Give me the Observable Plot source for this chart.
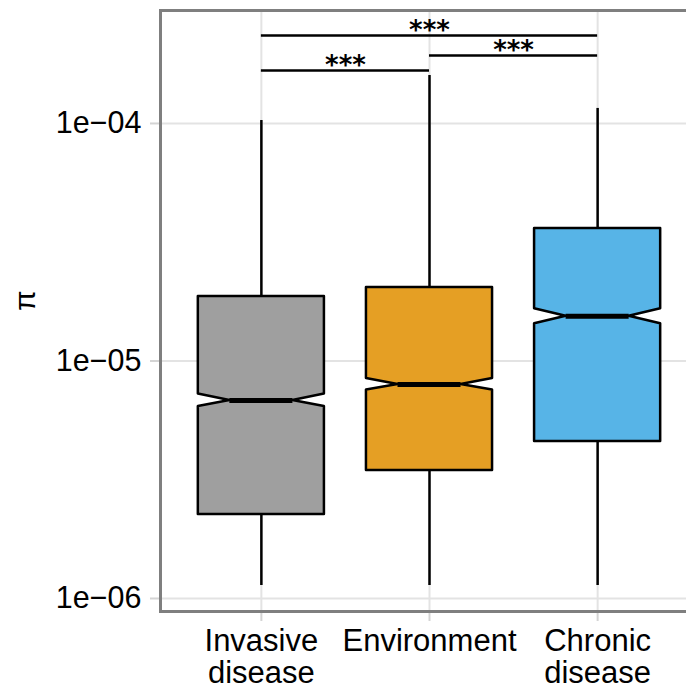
<!DOCTYPE html>
<html><head><meta charset="utf-8">
<script src="https://cdn.jsdelivr.net/npm/d3@7"></script>
<script src="https://cdn.jsdelivr.net/npm/@observablehq/plot@0.6"></script>
<style>
html,body{margin:0;padding:0;background:#fff;overflow:hidden;}
#chart{width:686px;height:693px;overflow:hidden;}
#chart svg{max-width:none !important;width:698px !important;height:693px !important;}
</style></head><body><div id="chart"></div>
<script>
// ---- data ----
const categories = ["Invasive disease", "Environment", "Chronic disease"];
const xTickLabels = ["Invasive\ndisease", "Environment", "Chronic\ndisease"];
const colors = ["#9f9f9f", "#e59f24", "#57b4e7"];
const whiskerLow = [1.134e-6, 1.134e-6, 1.134e-6];
const q1 = [2.26e-6, 3.46e-6, 4.58e-6];
const notchLow = [6.43e-6, 7.55e-6, 1.434e-5];
const median = [6.82e-6, 7.96e-6, 1.544e-5];
const notchHigh = [7.26e-6, 8.44e-6, 1.659e-5];
const q3 = [1.87e-5, 2.04e-5, 3.61e-5];
const whiskerHigh = [1.029e-4, 1.592e-4, 1.157e-4];
const yTicks = [1e-6, 1e-5, 1e-4];
const yTickLabels = ["1e\u221206", "1e\u221205", "1e\u221204"];
const yLabel = "\u03c0";
const compFrom = [1, 2, 1];
const compTo = [2, 3, 3];
const compY = [1.672e-4, 1.933e-4, 2.347e-4];
const compLabel = ["***", "***", "***"];

// ---- derived tables ----
const halfW = 0.375, notchHalf = 0.1875;
const idx = categories.map((c, i) => i + 1);
const boxRows = [];
categories.forEach((c, i) => {
  const x = i + 1;
  boxRows.push({g: c, y: q1[i], x1: x - halfW, x2: x + halfW});
  boxRows.push({g: c, y: notchLow[i], x1: x - halfW, x2: x + halfW});
  boxRows.push({g: c, y: median[i], x1: x - notchHalf, x2: x + notchHalf});
  boxRows.push({g: c, y: notchHigh[i], x1: x - halfW, x2: x + halfW});
  boxRows.push({g: c, y: q3[i], x1: x - halfW, x2: x + halfW});
});
const whiskers = categories.flatMap((c, i) => [
  {x: i + 1, y1: whiskerLow[i], y2: q1[i]},
  {x: i + 1, y1: q3[i], y2: whiskerHigh[i]}
]);
const medians = categories.map((c, i) => ({x1: i + 1 - notchHalf, x2: i + 1 + notchHalf, y: median[i]}));
const comps = compFrom.map((f, i) => ({x1: f, x2: compTo[i], xm: (f + compTo[i]) / 2, y: compY[i], label: compLabel[i]}));

const font = "'Liberation Sans', Arial, Helvetica, sans-serif";
const chart = Plot.plot({
  width: 698,
  height: 693,
  marginLeft: 160,
  marginRight: 0,
  marginTop: 10,
  marginBottom: 82,
  style: {fontFamily: font, background: "#fff", color: "black", maxWidth: "none"},
  x: {type: "linear", domain: [0.4, 3.6]},
  y: {type: "log", domain: [8.815e-7, 2.99e-4]},
  color: {domain: categories, range: colors},
  marks: [
    Plot.gridY(yTicks, {stroke: "#e3e3e3", strokeOpacity: 1, strokeWidth: 2}),
    Plot.gridX(idx, {stroke: "#e3e3e3", strokeOpacity: 1, strokeWidth: 2}),
    Plot.axisY(yTicks, {tickSize: 10, tickPadding: 9, stroke: "#d4d4d4", strokeWidth: 2, color: "black",
      tickFormat: d => yTickLabels[yTicks.indexOf(d)], fontSize: 30.5, label: null}),
    Plot.axisX(idx, {tickSize: 10, tickPadding: 7, stroke: "#d4d4d4", strokeWidth: 2, color: "black",
      tickFormat: d => xTickLabels[d - 1], fontSize: 31, lineHeight: 1.03, label: null}),
    Plot.text([yLabel], {frameAnchor: "left", dx: -135, rotate: -90, fontSize: 30, fill: "black"}),
    Plot.ruleX(whiskers, {x: "x", y1: "y1", y2: "y2", stroke: "black", strokeWidth: 2.5}),
    Plot.areaX(boxRows, {y: "y", x1: "x1", x2: "x2", z: "g", fill: "g", stroke: "black", strokeWidth: 2.5, curve: "linear", fillOpacity: 1}),
    Plot.ruleY(medians, {x1: "x1", x2: "x2", y: "y", stroke: "black", strokeWidth: 5}),
    Plot.ruleY(comps, {x1: "x1", x2: "x2", y: "y", stroke: "black", strokeWidth: 2.5}),
    Plot.text(comps, {x: "xm", y: "y", text: "label", fontSize: 26, fontWeight: "bold", fontFamily: "'DejaVu Sans', sans-serif", lineAnchor: "middle", dy: -5, fill: "black"}),
    Plot.frame({stroke: "#7f7f7f", strokeWidth: 3})
  ]
});
document.getElementById("chart").appendChild(chart);
</script>
</body></html>
